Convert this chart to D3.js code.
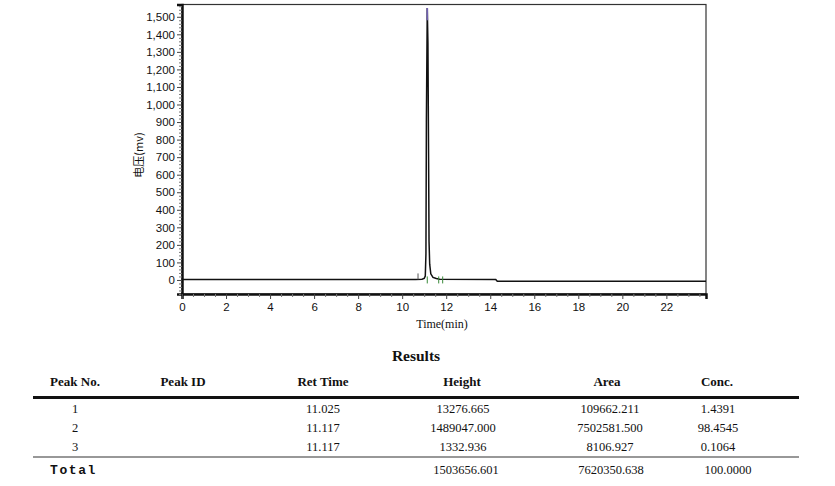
<!DOCTYPE html>
<html>
<head>
<meta charset="utf-8">
<script src="https://cdn.jsdelivr.net/npm/d3@7"></script>
<style>
  body { margin: 0; background: #fff; }
</style>
</head>
<body>
<div id="canvas"></div>
<script>
"use strict"

let svgWidth = 835
let svgHeight = 486

// chromatogram trace (min, mV)
let times  = [0, 10.6, 10.9, 11.0, 11.05, 11.08, 11.1, 11.14, 11.17, 11.2, 11.22, 11.25, 11.3, 11.4, 11.55, 11.7, 14.25, 14.32, 23.8]
let signal = [3, 3, 4, 9, 22, 150, 900, 1550, 1350, 700, 220, 90, 35, 15, 8, 4, 3, -7, -7]

// integration event marks (min)
let eventTimes = [10.72, 11.14, 11.66, 11.84]
let eventColors = ["#555", "#3a8a3a", "#3a8a3a", "#3a8a3a"]

let xTicks = [0, 2, 4, 6, 8, 10, 12, 14, 16, 18, 20, 22]
let yTicks = [0, 100, 200, 300, 400, 500, 600, 700, 800, 900, 1000, 1100, 1200, 1300, 1400, 1500]

// results table
let headers = ["Peak No.", "Peak ID", "Ret Time", "Height", "Area", "Conc."]
let peakNo = ["1", "2", "3"]
let peakId = ["", "", ""]
let retTime = ["11.025", "11.117", "11.117"]
let heights = ["13276.665", "1489047.000", "1332.936"]
let areas = ["109662.211", "7502581.500", "8106.927"]
let conc = ["1.4391", "98.4545", "0.1064"]
let totals = ["1503656.601", "7620350.638", "100.0000"]

let drawing = d3.select("#canvas")
    .append("svg")
    .attr("width", svgWidth)
    .attr("height", svgHeight)
    .style("display", "block")

let plotLeft = 182, plotRight = 706, plotTop = 4.5, plotBottom = 294

let x = d3.scaleLinear().domain([0, 23.8]).range([plotLeft, plotRight])
let y = d3.scaleLinear().domain([-80, 1570]).range([plotBottom, plotTop])

let tickFont = "'Liberation Sans', Arial, sans-serif"
let serif = "'Liberation Serif', 'Times New Roman', serif"

// frame
drawing.append("rect")
    .attr("x", plotLeft)
    .attr("y", plotTop)
    .attr("width", plotRight - plotLeft)
    .attr("height", plotBottom - plotTop)
    .attr("fill", "none")
    .attr("stroke", "#333")
    .attr("stroke-width", 1.2)

// y axis
let yAxis = drawing.append("g")
    .attr("transform", `translate(${plotLeft},0)`)
    .call(d3.axisLeft(y).tickValues(yTicks).tickSize(5).tickPadding(2).tickFormat(d3.format(",")))
yAxis.select(".domain").attr("stroke", "#111").attr("stroke-width", 2.5)
yAxis.selectAll("text").attr("font-family", tickFont).attr("font-size", 11.5).attr("fill", "#111")
yAxis.selectAll("line").attr("stroke", "#444")

let yMinor = d3.range(-80, 1561, 20).filter(d => d % 100 != 0)
drawing.append("g")
    .attr("transform", `translate(${plotLeft},0)`)
    .call(d3.axisLeft(y).tickValues(yMinor).tickSize(3).tickFormat(""))
    .call(g => g.select(".domain").remove())
    .selectAll("line").attr("stroke", "#777")

// x axis
let xAxis = drawing.append("g")
    .attr("transform", `translate(0,${plotBottom})`)
    .call(d3.axisBottom(x).tickValues(xTicks).tickSize(5).tickPadding(4).tickFormat(d3.format("d")))
xAxis.select(".domain").attr("stroke", "#111").attr("stroke-width", 2.5)
xAxis.selectAll("text").attr("font-family", tickFont).attr("font-size", 11.5).attr("fill", "#111")
xAxis.selectAll("line").attr("stroke", "#444")

let xMinor = d3.range(0.5, 23.8, 0.5).filter(d => d % 2 != 0)
drawing.append("g")
    .attr("transform", `translate(0,${plotBottom})`)
    .call(d3.axisBottom(x).tickValues(xMinor).tickSize(3).tickFormat(""))
    .call(g => g.select(".domain").remove())
    .selectAll("line").attr("stroke", "#777")

// axis titles
drawing.append("text")
    .attr("x", 442)
    .attr("y", 328)
    .attr("text-anchor", "middle")
    .attr("font-family", serif)
    .attr("font-size", 12)
    .attr("fill", "#111")
    .text("Time(min)")

drawing.append("text")
    .attr("transform", "translate(143,155) rotate(-90)")
    .attr("text-anchor", "middle")
    .attr("font-family", "'Noto Sans CJK SC', serif")
    .attr("font-size", 11)
    .attr("fill", "#111")
    .text("电压(mv)")

// trace
let line = d3.line()
    .x((d, i) => x(times[i]))
    .y(d => y(d))

drawing.append("path")
    .datum(signal)
    .attr("d", line)
    .attr("fill", "none")
    .attr("stroke", "#111")
    .attr("stroke-width", 1.5)

// apex mark
drawing.append("line")
    .attr("x1", x(11.14))
    .attr("x2", x(11.14))
    .attr("y1", y(1550))
    .attr("y2", y(1480))
    .attr("stroke", "#7060b0")
    .attr("stroke-width", 1.6)

// event marks
drawing.selectAll(".evt")
    .data(eventTimes)
    .enter()
    .append("line")
    .attr("x1", d => x(d))
    .attr("x2", d => x(d))
    .attr("y1", (d, i) => i == 0 ? y(3) - 6 : y(3) - 3)
    .attr("y2", (d, i) => i == 0 ? y(3) : y(3) + 4)
    .attr("stroke", (d, i) => eventColors[i])
    .attr("stroke-width", 1)

// results table
drawing.append("text")
    .attr("x", 416)
    .attr("y", 361)
    .attr("text-anchor", "middle")
    .attr("font-family", serif)
    .attr("font-weight", "bold")
    .attr("font-size", 15.5)
    .attr("fill", "#111")
    .text("Results")

let colX = [75, 183, 323, 463, 610, 718]
let headX = [75, 183, 323, 462, 607, 717]

drawing.selectAll(".head")
    .data(headers)
    .enter()
    .append("text")
    .attr("x", (d, i) => headX[i])
    .attr("y", 386)
    .attr("text-anchor", "middle")
    .attr("font-family", serif)
    .attr("font-weight", "bold")
    .attr("font-size", 13)
    .attr("fill", "#111")
    .text(d => d)

drawing.append("line")
    .attr("x1", 33).attr("x2", 799)
    .attr("y1", 397.5).attr("y2", 397.5)
    .attr("stroke", "#111")
    .attr("stroke-width", 3)

let rows = peakNo.map((d, i) => [d, peakId[i], retTime[i], heights[i], areas[i], conc[i]])
let rowY = d3.scaleBand().domain(peakNo).range([399, 456])

rows.forEach((row, r) => {
    drawing.selectAll(".row" + r)
        .data(row)
        .enter()
        .append("text")
        .attr("x", (d, i) => colX[i])
        .attr("y", rowY(peakNo[r]) + 13.5)
        .attr("text-anchor", "middle")
        .attr("font-family", serif)
        .attr("font-size", 12.5)
        .attr("fill", "#111")
        .text(d => d)
})

drawing.append("line")
    .attr("x1", 33).attr("x2", 799)
    .attr("y1", 457).attr("y2", 457)
    .attr("stroke", "#333")
    .attr("stroke-width", 1.2)

drawing.append("text")
    .attr("x", 50)
    .attr("y", 474)
    .attr("font-family", "'Liberation Mono', 'DejaVu Sans Mono', monospace")
    .attr("font-weight", "bold")
    .attr("font-size", 13)
    .attr("letter-spacing", 1.6)
    .attr("fill", "#111")
    .text("Total")

let totalX = [466, 611, 728]
drawing.selectAll(".total")
    .data(totals)
    .enter()
    .append("text")
    .attr("x", (d, i) => totalX[i])
    .attr("y", 473.5)
    .attr("text-anchor", "middle")
    .attr("font-family", serif)
    .attr("font-size", 12.5)
    .attr("fill", "#111")
    .text(d => d)
</script>
</body>
</html>
